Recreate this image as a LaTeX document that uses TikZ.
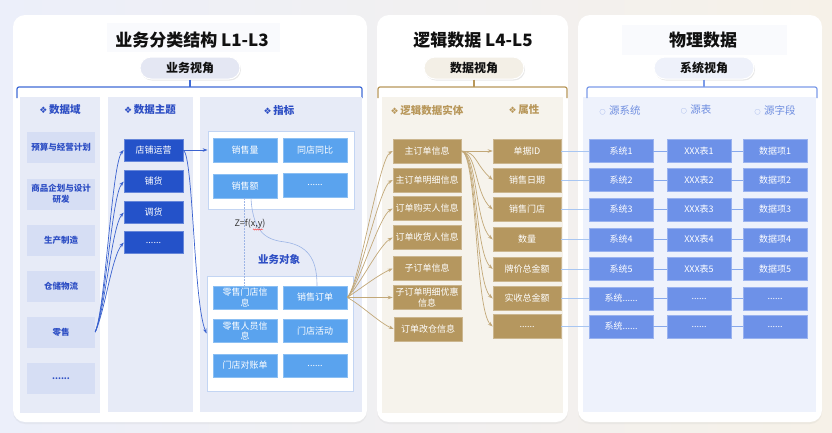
\documentclass[tikz,border=0pt]{standalone}
\usepackage{fontspec}
\setmainfont{Noto Sans CJK SC}
\newfontfamily\dv{DejaVu Sans}
\usetikzlibrary{arrows.meta,shadows,decorations.pathmorphing}
\newcommand\mydots{......}
\definecolor{bgL}{HTML}{ECEFFA}
\definecolor{bgR}{HTML}{F6F1E8}
\definecolor{titleT}{HTML}{111111}
\definecolor{blueT}{HTML}{2D4EC4}
\definecolor{blueBr}{HTML}{3F6BD6}
\definecolor{colBg}{HTML}{E7EBF7}
\definecolor{domF}{HTML}{D6DEF4}
\definecolor{themeF}{HTML}{2452C9}
\definecolor{indF}{HTML}{5AA3EE}
\definecolor{frameB}{HTML}{C3D5F3}
\definecolor{blueA}{HTML}{3A62CF}
\definecolor{goldF}{HTML}{B5975F}
\definecolor{goldT}{HTML}{B8975A}
\definecolor{goldL}{HTML}{C2A878}
\definecolor{warmIn}{HTML}{F6F3EC}
\definecolor{pillB}{HTML}{E4E7F3}
\definecolor{pillG}{HTML}{F3EFE6}
\definecolor{pillS}{HTML}{EEF1FA}
\definecolor{sysF}{HTML}{6D91E8}
\definecolor{sysT}{HTML}{6F8EE0}
\definecolor{sysBr}{HTML}{7B9BE8}
\definecolor{rightIn}{HTML}{EEF2FC}
\definecolor{lnA}{HTML}{A8C6F2}
\definecolor{lnB}{HTML}{86A8EC}
\definecolor{zline}{HTML}{9DB5E6}
\definecolor{ttlBox}{HTML}{F9FAFD}
\begin{document}
\begin{tikzpicture}[x=1pt,y=-1pt,
 box/.style={inner sep=1pt, align=center, font=\fontsize{9}{10.5}\selectfont, text=white},
 dombox/.style={box, fill=domF, text=blueT, font=\bfseries\fontsize{8.5}{10.5}\selectfont, minimum width=68pt, minimum height=31pt},
 thbox/.style={box, fill=themeF, draw=themeF!70!white, line width=0.5pt, minimum width=59pt, minimum height=22pt},
 indbox/.style={box, fill=indF, draw=indF!70!white, line width=0.5pt, minimum width=64pt, minimum height=24pt},
 objbox/.style={box, fill=indF, draw=indF!70!white, line width=0.5pt, minimum width=64pt, minimum height=23pt},
 goldbox/.style={box, fill=goldF, draw=goldF!70!white, line width=0.5pt, minimum width=68pt, minimum height=24pt},
 sysbox/.style={box, fill=sysF, draw=sysF!70!white, line width=0.5pt, minimum width=64pt, minimum height=23pt},
 framebox/.style={draw=frameB, line width=0.8pt, fill=white, inner sep=0pt},
 hdr/.style={font=\bfseries\fontsize{10.5}{12}\selectfont},
 ttl/.style={font=\bfseries\fontsize{17}{20}\selectfont, text=titleT},
 pill/.style={rounded corners=11pt, minimum width=100pt, minimum height=22pt, font=\bfseries\fontsize{12}{14}\selectfont, text=titleT, draw=white, line width=1pt, drop shadow={opacity=0.18, shadow xshift=1pt, shadow yshift=-1.5pt}},
 panel/.style={fill=white, rounded corners=12pt, drop shadow={opacity=0.08, shadow xshift=0pt, shadow yshift=-2pt}},
 garrow/.style={draw=goldL, line width=0.7pt, -{Stealth[length=5pt,width=3.5pt]}},
 barrow/.style={draw=blueA, line width=0.7pt, -{Stealth[length=5pt,width=3.5pt]}},
]
% background
\fill[left color=bgL, right color=bgR] (0,0) rectangle (832,432);
\useasboundingbox (0,0) rectangle (832,432);

% panels
\path[panel] (13,15) rectangle (367,422);
\path[panel] (377,15) rectangle (568,422);
\path[panel] (578,15) rectangle (822,422);

% faint title boxes
\fill[ttlBox] (107,23) rectangle (280,52);
\fill[ttlBox] (622,25) rectangle (787,55);

% ===== panel 1 =====
\node[ttl] (t1) at (192,40) {业务分类结构 L1-L3};
\node[pill, fill=pillB] (p1) at (190,68) {业务视角};
\draw[blueBr, line width=1.2pt, rounded corners=2pt] (17,98) -- (17,87) -- (362,87) -- (362,98);
\draw[blueBr, line width=1.2pt] (p1.south) -- (190,87);

\fill[colBg] (20,97) rectangle (100,413);
\fill[colBg] (108,97) rectangle (193,412);
\fill[colBg] (200,97) rectangle (362,412);
\node[hdr, text=blueT] (h1) at (60,110) {{\dv\fontsize{9}{10}\selectfont ❖}\,数据域};
\node[hdr, text=blueT] (h2) at (150,110) {{\dv\fontsize{9}{10}\selectfont ❖}\,数据主题};
\node[hdr, text=blueT] (h3) at (279,110) {{\dv\fontsize{9}{10}\selectfont ❖}\,指标};

\node[dombox] (d1) at (61,147.5) {预算与经营计划};
\node[dombox] (d2) at (61,194) {商品企划与设计\\研发};
\node[dombox] (d3) at (61,240) {生产制造};
\node[dombox] (d4) at (61,286) {仓储物流};
\node[dombox] (d5) at (61,332) {零售};
\node[dombox] (d6) at (61,378.5) {\mydots};

\node[thbox] (th1) at (153.5,150) {店铺运营};
\node[thbox] (th2) at (153.5,181.5) {铺货};
\node[thbox] (th3) at (153.5,212.5) {调货};
\node[thbox] (th4) at (153.5,242.5) {\mydots};

\foreach \i in {1,2,3,4}
  \draw[barrow] (d5.east) .. controls +(10,-22) and +(-12,14) .. (th\i.west);

\node[framebox, minimum width=146pt, minimum height=78pt] (ind) at (281,170) {};
\node[indbox] (i1) at (245,150) {销售量};
\node[indbox] (i2) at (315,150) {同店同比};
\node[indbox] (i3) at (245,186) {销售额};
\node[indbox] (i4) at (315,185) {\mydots};

\node[framebox, minimum width=146pt, minimum height=115pt] (bo) at (280,333.5) {};
\node[objbox] (o1) at (245,297.5) {零售门店信\\息};
\node[objbox] (o2) at (315,297.5) {销售订单};
\node[objbox] (o3) at (245,331) {零售人员信\\息};
\node[objbox] (o4) at (315,331) {门店活动};
\node[objbox] (o5) at (245,365.5) {门店对账单};
\node[objbox] (o6) at (315,365.5) {\mydots};

\draw[barrow] (th1.east) -- (th1.east -| ind.west);
\draw[barrow] (th1.east) .. controls +(10,5) and +(-13,-30) .. (bo.west);

\draw[zline, line width=0.6pt, dash pattern=on 2pt off 1pt] ([xshift=-1pt]i3.south) -- ([xshift=-1pt]o1.north);
\draw[zline, line width=0.6pt] ([xshift=6pt]i3.south) .. controls +(2,37) and +(-16,-2) .. (285,242) .. controls +(27,4) and +(0,-21) .. ([xshift=2pt]o2.north);
\node[font=\fontsize{9}{10}\selectfont, text=black!80] (zf) at (250,224) {Z=f(x,y)};
\draw[red!80, line width=0.4pt, decorate, decoration={snake, amplitude=0.6pt, segment length=2pt}] (253,229.5) -- (263,229.5);
\node[hdr, text=blueT] (bt) at (279,259) {业务对象};

% ===== panel 2 =====
\node[ttl] (t2) at (473,40) {逻辑数据 L4-L5};
\node[pill, fill=pillG] (p2) at (474,68) {数据视角};
\fill[warmIn] (382,97) rectangle (563,413);
\draw[goldT, line width=1.2pt, rounded corners=2pt] (378,98) -- (378,87) -- (567,87) -- (567,98);
\draw[goldT, line width=1.2pt] (p2.south) -- (474,87);
\node[hdr, text=goldT] (h4) at (427,110) {{\dv\fontsize{9}{10}\selectfont ❖}\,逻辑数据实体};
\node[hdr, text=goldT] (h5) at (524,110) {{\dv\fontsize{9}{10}\selectfont ❖}\,属性};

\node[goldbox] (e1) at (427,151) {主订单信息};
\node[goldbox] (e2) at (427,180) {主订单明细信息};
\node[goldbox] (e3) at (427,208.5) {订单购买人信息};
\node[goldbox] (e4) at (427,237.5) {订单收货人信息};
\node[goldbox] (e5) at (427,268.5) {子订单信息};
\node[goldbox] (e6) at (427,297.5) {子订单明细优惠\\信息};
\node[goldbox] (e7) at (428,329) {订单改仓信息};

\node[goldbox] (a1) at (527,151) {单据ID};
\node[goldbox] (a2) at (527,180) {销售日期};
\node[goldbox] (a3) at (527,209.5) {销售门店};
\node[goldbox] (a4) at (527,239.5) {数量};
\node[goldbox] (a5) at (527,269) {牌价总金额};
\node[goldbox] (a6) at (527,298.5) {实收总金额};
\node[goldbox] (a7) at (527,326.5) {\mydots};

\foreach \i/\c/\d in {1/-12/8,2/-12/8,3/-12/8,4/-11/8,5/-8/6,6/0/0,7/6/-6}
  \draw[garrow] (o2.east) .. controls +(12,\c) and +(-14,\d) .. (e\i.west);

\draw[garrow] (e1.east) -- (a1.west);
\foreach \i in {2,3,4,5,6,7}
  \draw[garrow] (e1.east) .. controls +(16,1) and +(-18,-16) .. (a\i.west);

% ===== panel 3 =====
\node[ttl] (t3) at (703,40) {物理数据};
\node[pill, fill=pillS] (p3) at (704,68) {系统视角};
\fill[rightIn] (583,97) rectangle (816,412);
\draw[sysBr, line width=1.2pt, rounded corners=2pt] (587,98) -- (587,87) -- (817,87) -- (817,98);
\draw[sysBr, line width=1.2pt] (p3.south) -- (704,87);
\node[font=\fontsize{10.5}{12}\selectfont, text=sysT] (h6) at (620,110) {{\fontsize{6}{8}\selectfont ○}\,\,源系统};
\node[font=\fontsize{10.5}{12}\selectfont, text=sysT] (h7) at (696,110) {{\fontsize{6}{8}\selectfont ○}\,\,源表};
\node[font=\fontsize{10.5}{12}\selectfont, text=sysT] (h8) at (775,110) {{\fontsize{6}{8}\selectfont ○}\,\,源字段};

\foreach \i/\y/\s/\t/\f in {1/151/系统1/XXX表1/数据项1, 2/180/系统2/XXX表2/数据项2, 3/209.5/系统3/XXX表3/数据项3, 4/239.5/系统4/XXX表4/数据项4, 5/269/系统5/XXX表5/数据项5, 6/298.5/{系统\mydots}/{\mydots}/{\mydots}, 7/326.5/{系统\mydots}/{\mydots}/{\mydots}}{
  \node[sysbox] (s\i) at (621,\y) {\s};
  \node[sysbox] (b\i) at (699,\y) {\t};
  \node[sysbox] (f\i) at (775,\y) {\f};
  \draw[lnA, line width=1pt] (a\i.east) -- (s\i.west);
  \draw[lnB, line width=1pt] (s\i.east) -- (b\i.west);
  \draw[lnB, line width=1pt] (b\i.east) -- (f\i.west);
}
\end{tikzpicture}
\end{document}
